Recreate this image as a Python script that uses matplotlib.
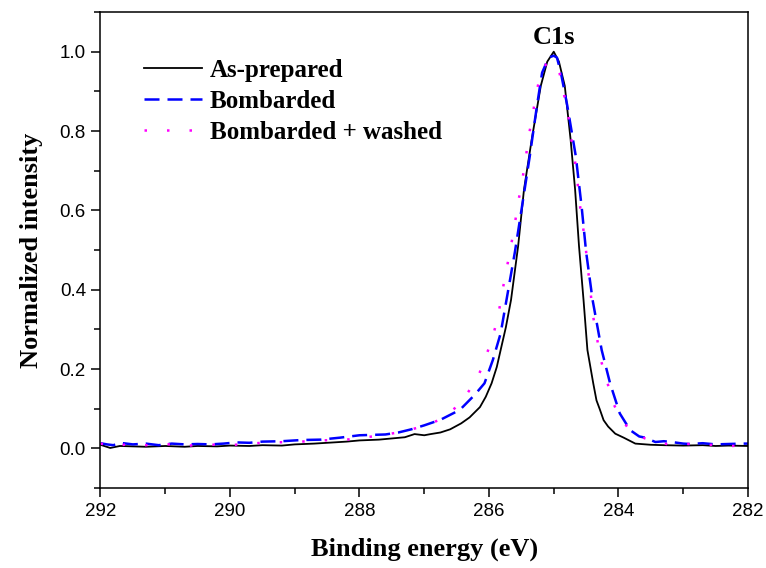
import numpy as np
import matplotlib
matplotlib.use("Agg")
import matplotlib.pyplot as plt
from matplotlib.ticker import MultipleLocator, FormatStrFormatter

# values
as_prep_e = [292.0, 291.85, 291.7, 291.5, 291.3, 291.0, 290.7, 290.5, 290.2, 290.0,
             289.7, 289.5, 289.2, 289.0, 288.7, 288.5, 288.2, 288.0, 287.7, 287.5,
             287.3, 287.15, 287.0, 286.9, 286.75, 286.6, 286.43, 286.3, 286.14, 286.05,
             285.96, 285.88, 285.82, 285.74, 285.66, 285.55, 285.46, 285.34, 285.2, 285.1,
             285.0, 284.92, 284.83, 284.74, 284.67, 284.61, 284.54, 284.48, 284.39, 284.34,
             284.29, 284.23, 284.16, 284.05, 283.92, 283.74, 283.5, 283.3, 283.0, 282.7,
             282.5, 282.3, 282.0]
as_prep_i = [0.009, 0.001, 0.006, 0.005, 0.004, 0.006, 0.004, 0.006, 0.005, 0.007,
             0.006, 0.008, 0.007, 0.010, 0.012, 0.014, 0.017, 0.020, 0.022, 0.025,
             0.028, 0.036, 0.033, 0.036, 0.040, 0.048, 0.063, 0.078, 0.104, 0.130,
             0.164, 0.205, 0.248, 0.305, 0.374, 0.510, 0.652, 0.779, 0.914, 0.975,
             1.0, 0.975, 0.914, 0.779, 0.652, 0.510, 0.374, 0.248, 0.164, 0.121,
             0.099, 0.071, 0.055, 0.037, 0.027, 0.012, 0.009, 0.008, 0.007, 0.008,
             0.006, 0.007, 0.006]

bomb_e = [292.0, 291.9, 291.8, 291.7, 291.5, 291.3, 291.1, 290.9, 290.7, 290.5,
          290.3, 290.1, 289.9, 289.7, 289.5, 289.2, 288.9, 288.6, 288.3, 288.0,
          287.6, 287.4, 287.2, 287.0, 286.75, 286.45, 286.22, 286.07, 285.94, 285.82,
          285.73, 285.6, 285.49, 285.37, 285.26, 285.18, 285.08, 285.0, 284.95, 284.89,
          284.79, 284.66, 284.57, 284.5, 284.4, 284.26, 284.13, 283.98, 283.82, 283.68,
          283.59, 283.43, 283.3, 283.18, 283.0, 282.9, 282.7, 282.5, 282.3, 282.1, 282.0]
bomb_i = [0.013, 0.010, 0.008, 0.014, 0.010, 0.012, 0.008, 0.012, 0.010, 0.011,
          0.010, 0.012, 0.015, 0.014, 0.017, 0.018, 0.021, 0.022, 0.027, 0.033,
          0.035, 0.040, 0.048, 0.058, 0.072, 0.097, 0.135, 0.164, 0.223, 0.290,
          0.374, 0.495, 0.610, 0.737, 0.863, 0.947, 0.985, 0.990, 0.985, 0.947,
          0.863, 0.737, 0.610, 0.495, 0.374, 0.248, 0.164, 0.088, 0.046, 0.030,
          0.027, 0.016, 0.018, 0.016, 0.012, 0.011, 0.013, 0.010, 0.011, 0.012, 0.012]

washed_e = [292.0, 291.8, 291.6, 291.3, 291.0, 290.7, 290.4, 290.0, 289.7, 289.4,
            289.0, 288.6, 288.2, 287.8, 287.4, 287.2, 286.95, 286.72, 286.53, 286.35,
            286.18, 286.06, 285.95, 285.86, 285.8, 285.67, 285.61, 285.56, 285.5, 285.44,
            285.4, 285.34, 285.28, 285.21, 285.12, 285.04, 284.98, 284.92, 284.85, 284.78,
            284.74, 284.68, 284.64, 284.59, 284.54, 284.5, 284.39, 284.27, 284.18, 284.1,
            283.98, 283.82, 283.59, 283.4, 283.22, 283.0, 282.66, 282.45, 282.25, 282.0]
washed_i = [0.012, 0.005, 0.010, 0.008, 0.011, 0.006, 0.010, 0.008, 0.012, 0.015,
            0.016, 0.020, 0.022, 0.030, 0.040, 0.048, 0.058, 0.076, 0.101, 0.135,
            0.176, 0.226, 0.277, 0.332, 0.391, 0.502, 0.556, 0.610, 0.665, 0.720,
            0.774, 0.829, 0.884, 0.943, 0.968, 0.975, 0.970, 0.954, 0.898, 0.846,
            0.790, 0.735, 0.682, 0.606, 0.549, 0.496, 0.331, 0.221, 0.172, 0.120,
            0.080, 0.044, 0.025, 0.015, 0.010, 0.012, 0.008, 0.010, 0.006, 0.008]

labels = ["As-prepared", "Bombarded", "Bombarded + washed"]

serif = ["Liberation Serif", "DejaVu Serif"]
plt.rcParams['font.family'] = ["Liberation Sans", "DejaVu Sans"]

fig = plt.figure(figsize=(7.66, 5.68), dpi=100)
ax = fig.add_axes([0.1312, 0.1408, 0.8453, 0.838])

ax.plot(as_prep_e, as_prep_i, color="black", lw=1.3, label=labels[0])
ax.plot(bomb_e, bomb_i, color="#0000ff", lw=1.8, dashes=(6, 3.2), label=labels[1])
ax.plot(washed_e, washed_i, color="#ff00ff", lw=1.8, dashes=(1, 8), label=labels[2])

ax.set_xlim(292, 282)
ax.set_ylim(-0.1, 1.1)
ax.xaxis.set_major_locator(MultipleLocator(2))
ax.xaxis.set_minor_locator(MultipleLocator(1))
ax.yaxis.set_major_locator(MultipleLocator(0.2))
ax.yaxis.set_minor_locator(MultipleLocator(0.1))
ax.yaxis.set_major_formatter(FormatStrFormatter("%.1f"))
ax.tick_params(which="major", direction="out", length=6.5, width=1.1, labelsize=13.5, pad=4)
ax.tick_params(which="minor", direction="out", length=4, width=1.1)
for sp in ax.spines.values():
    sp.set_linewidth(1.1)

ax.set_xlabel("Binding energy (eV)", family=serif, fontweight="bold", fontsize=19, labelpad=13)
ax.set_ylabel("Normalized intensity", family=serif, fontweight="bold", fontsize=19, labelpad=12)

ax.text(285.0, 1.008, "C1s", family=serif, fontweight="bold", fontsize=19,
        ha="center", va="bottom")

leg = ax.legend(loc="upper left", bbox_to_anchor=(0.033, 0.949), frameon=False,
                prop={"family": serif, "weight": "bold", "size": 18},
                handlelength=2.3, handletextpad=0.32, labelspacing=0.32)

fig.savefig("out.png", dpi=100)
